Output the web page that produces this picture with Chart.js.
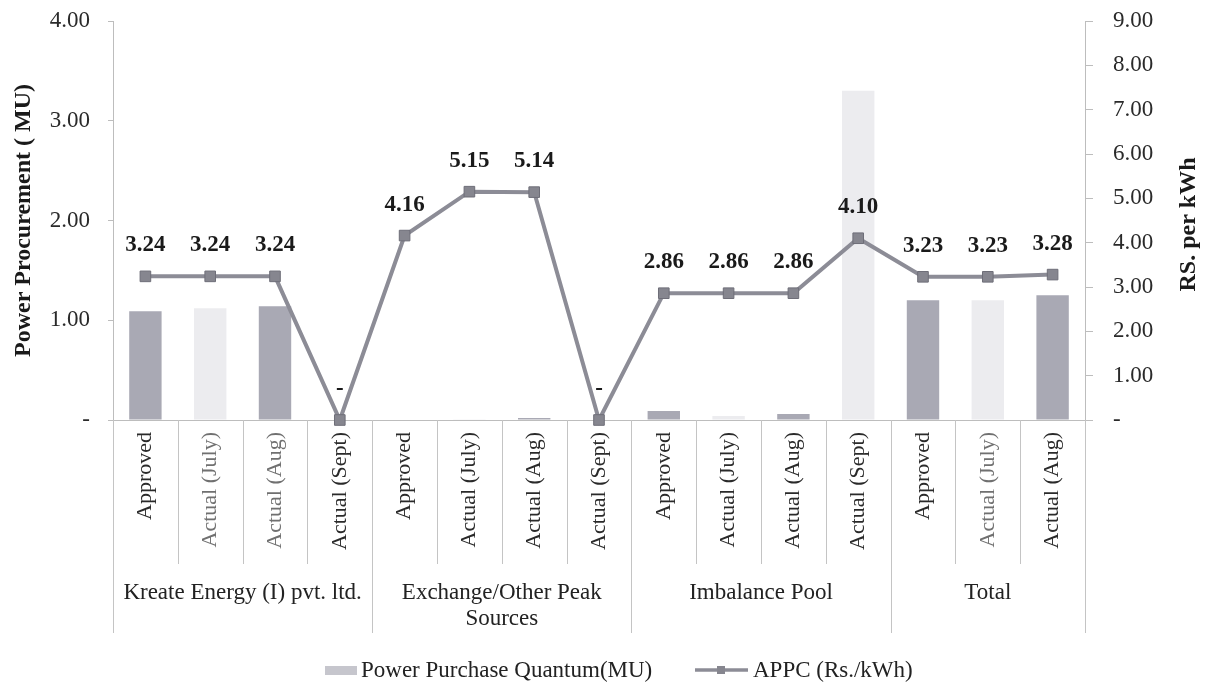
<!DOCTYPE html>
<html>
<head>
<meta charset="utf-8">
<script src="https://cdn.jsdelivr.net/npm/chart.js@4.4.0/dist/chart.umd.min.js"></script>
<style>
html,body{margin:0;padding:0;background:#ffffff;}
#wrap{width:1213px;height:695px;position:relative;}
</style>
</head>
<body>
<div id="wrap"><canvas id="c" width="1213" height="695"></canvas></div>
<script>
// ---------- DATA ----------
const categories = [
  'Approved','Actual (July)','Actual (Aug)','Actual (Sept)',
  'Approved','Actual (July)','Actual (Aug)','Actual (Sept)',
  'Approved','Actual (July)','Actual (Aug)','Actual (Sept)',
  'Approved','Actual (July)','Actual (Aug)'
];
const groupNames = [
  ['Kreate Energy (I) pvt. ltd.'],
  ['Exchange/Other Peak','Sources'],
  ['Imbalance Pool'],
  ['Total']
];
const groupSizes = [4,4,4,3];
const powerPurchaseMU = [1.09,1.12,1.14,0, 0.005,0.003,0.02,0, 0.09,0.04,0.06,3.30, 1.20,1.20,1.25];
const appcRsPerKWh   = [3.24,3.24,3.24,0, 4.16,5.15,5.14,0, 2.86,2.86,2.86,4.10, 3.23,3.23,3.28];
const leftTickValues  = [0,1,2,3,4];
const rightTickValues = [0,1,2,3,4,5,6,7,8,9];
const seriesNames = ['Power Purchase Quantum(MU)','APPC (Rs./kWh)'];
const axisTitles = ['Power Procurement ( MU)','RS. per kWh'];

// ---------- STYLE ----------
const FONT = "'Liberation Serif','Times New Roman',serif";
const DARK_BAR = '#a9a9b4';
const LIGHT_BAR = '#ececef';
const LINE_COL = '#8c8c96';
const AXIS_COL = '#bdbdbd';
const fadedLabels = [1,2,13];
function barColor(label){ return (label.indexOf('July')>=0 || label.indexOf('Sept')>=0) ? LIGHT_BAR : DARK_BAR; }
function tickFmt(v){ return v===0 ? '-' : Number(v).toFixed(2); }

const annot = {
  id:'annot',
  afterDatasetsDraw(chart){
    const ctx = chart.ctx;
    const meta = chart.getDatasetMeta(0);
    ctx.save();
    ctx.font = 'bold 23px ' + FONT;
    ctx.fillStyle = '#1a1a1a';
    ctx.textAlign = 'center';
    ctx.textBaseline = 'middle';
    meta.data.forEach((pt,i)=>{
      const v = appcRsPerKWh[i];
      ctx.fillText(v===0 ? '-' : v.toFixed(2), pt.x, pt.y - 31);
    });
    ctx.restore();
  },
  afterDraw(chart){
    const ctx = chart.ctx;
    const xs = chart.scales.x;
    const area = chart.chartArea;
    const n = categories.length;
    const w = xs.getPixelForValue(1) - xs.getPixelForValue(0);
    const bound = i => (i < n ? xs.getPixelForValue(i) - w/2 : xs.getPixelForValue(n-1) + w/2);
    const groupStarts = [0];
    groupSizes.forEach(s => groupStarts.push(groupStarts[groupStarts.length-1] + s));
    ctx.save();
    ctx.strokeStyle = '#c4c4c4';
    ctx.lineWidth = 1;
    for (let i = 0; i <= n; i++){
      const isGroup = groupStarts.indexOf(i) >= 0;
      const x = Math.round(bound(i)) + 0.5;
      ctx.beginPath();
      ctx.moveTo(x, area.bottom);
      ctx.lineTo(x, isGroup ? 633 : 564);
      ctx.stroke();
    }
    // group labels
    ctx.font = '23px ' + FONT;
    ctx.fillStyle = '#222';
    ctx.textAlign = 'center';
    ctx.textBaseline = 'middle';
    groupNames.forEach((lines, g) => {
      const cx = (bound(groupStarts[g]) + bound(groupStarts[g+1])) / 2;
      lines.forEach((t, k) => ctx.fillText(t, cx, 593 + k*26));
    });
    // right axis title (reads bottom-to-top)
    ctx.save();
    ctx.translate(1189, (area.top + area.bottom) / 2 + 4);
    ctx.rotate(-Math.PI / 2);
    ctx.font = 'bold 24px ' + FONT;
    ctx.fillStyle = '#1a1a1a';
    ctx.fillText(axisTitles[1], 0, 0);
    ctx.restore();
    // legend
    const ly = 671;
    ctx.fillStyle = '#c6c6cd';
    ctx.fillRect(325, ly - 5, 32, 9);
    ctx.fillStyle = '#222';
    ctx.textAlign = 'left';
    ctx.fillText(seriesNames[0], 361, ly);
    ctx.strokeStyle = LINE_COL;
    ctx.lineWidth = 3.5;
    ctx.beginPath(); ctx.moveTo(695, ly - 1); ctx.lineTo(748, ly - 1); ctx.stroke();
    ctx.fillStyle = '#86868f';
    ctx.fillRect(717, ly - 5, 8, 8);
    ctx.fillStyle = '#222';
    ctx.fillText(seriesNames[1], 753, ly);
    ctx.restore();
  }
};

new Chart(document.getElementById('c'), {
  data: {
    labels: categories,
    datasets: [
      {
        type:'line', label: seriesNames[1], data: appcRsPerKWh, yAxisID:'y1', order:0,
        borderColor: LINE_COL, borderWidth:4, tension:0, clip:false,
        pointStyle:'rect', pointRadius:7.5, pointBackgroundColor:'#86868f',
        pointBorderColor:'#6e6e78', pointBorderWidth:1
      },
      {
        type:'bar', label: seriesNames[0], data: powerPurchaseMU, yAxisID:'y', order:1,
        backgroundColor: categories.map(barColor), borderWidth:0,
        categoryPercentage:1, barPercentage:0.5
      }
    ]
  },
  options: {
    responsive:false, animation:false, devicePixelRatio:1,
    layout:{padding:{top:21,left:0,right:0,bottom:0}},
    plugins:{legend:{display:false}, tooltip:{enabled:false}},
    scales:{
      x:{
        type:'category', offset:true,
        grid:{display:false, drawTicks:false},
        border:{display:true, color:AXIS_COL, width:1},
        ticks:{
          autoSkip:false, minRotation:90, maxRotation:90, padding:12,
          font:{family:FONT, size:22},
          color: c => (fadedLabels.indexOf(c.index) >= 0 ? '#707070' : '#2a2a2a')
        },
        afterFit(s){ s.height = 275; }
      },
      y:{
        position:'left', min:0, max:4,
        afterBuildTicks(s){ s.ticks = leftTickValues.map(v => ({value:v})); },
        grid:{drawOnChartArea:false, drawTicks:true, tickLength:5, color:AXIS_COL},
        border:{display:true, color:AXIS_COL, width:1},
        ticks:{padding:18, font:{family:FONT, size:23}, color:'#2a2a2a', callback: v => tickFmt(v)},
        title:{display:true, text:axisTitles[0], font:{family:FONT, size:24, weight:'bold'}, color:'#1a1a1a', padding:{top:9,bottom:0}},
        afterFit(s){ s.width = 113; s.paddingTop = 0; s.paddingBottom = 0; }
      },
      y1:{
        position:'right', min:0, max:9,
        afterBuildTicks(s){ s.ticks = rightTickValues.map(v => ({value:v})); },
        grid:{drawOnChartArea:false, drawTicks:true, tickLength:8, color:AXIS_COL},
        border:{display:true, color:AXIS_COL, width:1},
        ticks:{padding:20, font:{family:FONT, size:23}, color:'#2a2a2a', callback: v => tickFmt(v)},
        title:{display:false},
        afterFit(s){ s.width = 128; s.paddingTop = 0; s.paddingBottom = 0; }
      }
    }
  },
  plugins:[annot]
});
</script>
</body>
</html>
